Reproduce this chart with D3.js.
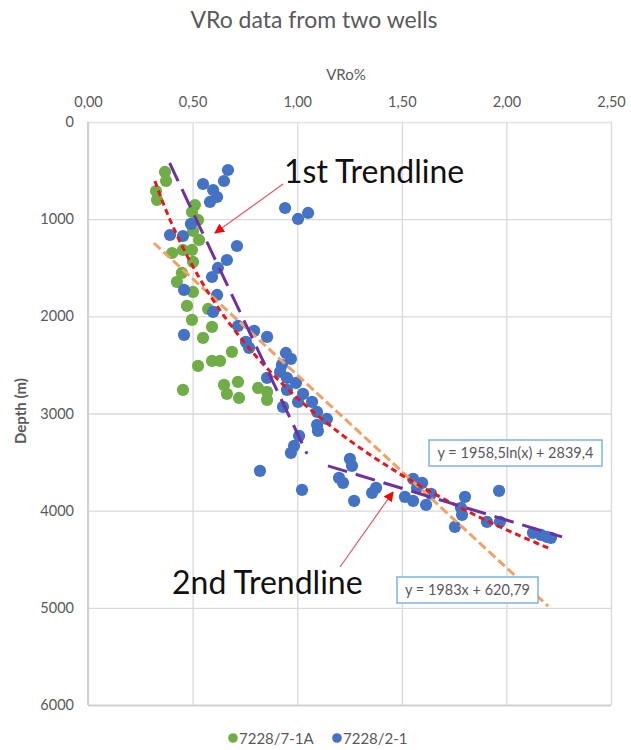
<!DOCTYPE html>
<html><head><meta charset="utf-8">
<script src="https://cdn.jsdelivr.net/npm/d3@7"></script>
<style>body{margin:0;background:#fff}svg{display:block}text{font-family:Lato,"Open Sans",sans-serif}</style>
</head><body><svg id="c" width="631" height="750"></svg>
<script>
// ---- data ----
const xTicks = [0, 0.5, 1.0, 1.5, 2.0, 2.5];
const yTicks = [0, 1000, 2000, 3000, 4000, 5000, 6000];
const seriesNames = ["7228/7-1A", "7228/2-1"];
const well71A_vro = [0.368,0.373,0.325,0.330,0.511,0.497,0.526,0.502,0.531,0.402,0.454,0.497,0.502,0.449,0.425,0.502,0.473,0.574,0.497,0.593,0.550,0.688,0.526,0.593,0.631,0.454,0.650,0.717,0.664,0.722,0.813,0.856,0.856];
const well71A_depth = [514,607,710,802,854,926,1008,1121,1214,1348,1317,1317,1440,1553,1646,1749,1893,1924,2037,2109,2222,2366,2510,2459,2459,2757,2706,2675,2798,2840,2737,2778,2860];
const well21_vro = [0.669,0.650,0.550,0.598,0.617,0.583,0.942,1.004,1.052,0.492,0.392,0.454,0.712,0.664,0.621,0.593,0.459,0.617,0.598,0.459,0.717,0.794,0.856,0.755,0.770,0.946,0.970,0.927,0.918,0.856,0.951,0.994,0.951,1.028,1.004,1.071,0.932,1.095,1.142,1.095,1.099,1.009,0.985,0.970,0.822,1.023,1.252,1.262,1.200,1.219,1.272,1.358,1.377,1.554,1.597,1.573,1.515,1.554,1.616,1.640,1.802,1.783,1.788,1.754,1.965,1.907,1.969,2.127,2.165,2.194,2.213];
const well21_depth = [494,607,638,700,772,823,885,998,936,1049,1163,1173,1276,1420,1502,1595,1728,1780,1955,2191,2099,2150,2212,2263,2325,2377,2438,2500,2572,2634,2634,2685,2757,2798,2881,2881,2932,2984,3056,3117,3179,3230,3333,3405,3590,3786,3467,3539,3663,3714,3899,3817,3765,3673,3714,3765,3858,3899,3940,3827,3858,3971,4043,4167,3796,4115,4115,4228,4249,4270,4280];
// trendlines (as shown in the chart)
const logFit = [1958.5, 2839.4];      // y = a ln(x) + b
const logRange = [0.32, 2.20];
const linFit = [1983, 620.79];       // y = a x + b
const linRange = [0.315, 2.20];
const trend1 = [[0.39, 422], [1.047, 3416]];
const trend2 = [[1.147, 3539], [2.266, 4270]];
const eqLabels = ["y = 1958,5ln(x) + 2839,4", "y = 1983x + 620,79"];

// ---- chart ----
const svg = d3.select("#c");
const L = 88, R = 611, T = 122, B = 705;
const x = d3.scaleLinear().domain([0, 2.5]).range([L, R]);
const y = d3.scaleLinear().domain([0, 6000]).range([T, B]);
const grey = "#595959", grid = "#d9d9d9";

svg.append("text").attr("x", 314).attr("y", 28).attr("text-anchor", "middle")
  .attr("font-size", 23).attr("fill", grey).text("VRo data from two wells");
svg.append("text").attr("x", 346).attr("y", 80).attr("text-anchor", "middle")
  .attr("font-size", 15).attr("fill", grey).text("VRo%");
svg.append("text").attr("transform", "translate(26,411) rotate(-90)").attr("text-anchor", "middle")
  .attr("font-size", 15).attr("font-weight", "bold").attr("fill", grey).text("Depth (m)");

const fmt = d => d.toFixed(2).replace(".", ",");
const gx = svg.append("g").attr("transform", `translate(0,${T})`)
  .call(d3.axisTop(x).tickValues(xTicks).tickFormat(fmt).tickSize(-(B - T)).tickPadding(15));
const gy = svg.append("g").attr("transform", `translate(${L},0)`)
  .call(d3.axisLeft(y).tickValues(yTicks).tickFormat(d3.format("d")).tickSize(-(R - L)).tickPadding(14));
[gx, gy].forEach(g => {
  g.select(".domain").remove();
  g.selectAll(".tick line").attr("stroke", grid).attr("stroke-width", 1.3);
  g.selectAll(".tick text").attr("fill", grey).attr("font-size", 14.5).attr("font-family", "Lato,'Open Sans',sans-serif");
});
gy.selectAll(".tick").filter(d => d === 6000).select("line").attr("stroke", "#d0d0d0").attr("stroke-width", 2);
gy.selectAll(".tick").filter(d => d === 0).select("line").attr("stroke", "#e2e2e2");
svg.append("line").attr("x1", L).attr("x2", L).attr("y1", T).attr("y2", B).attr("stroke", "#d0d0d0").attr("stroke-width", 2);

// points
const green = "#70ad47", blue = "#4472c4";
svg.append("g").selectAll("circle").data(d3.zip(well71A_vro, well71A_depth)).join("circle")
  .attr("cx", d => x(d[0])).attr("cy", d => y(d[1])).attr("r", 6.1).attr("fill", green);
svg.append("g").selectAll("circle").data(d3.zip(well21_vro, well21_depth)).join("circle")
  .attr("cx", d => x(d[0])).attr("cy", d => y(d[1])).attr("r", 6.1).attr("fill", blue);

// trendlines
const line = d3.line().x(d => x(d[0])).y(d => y(d[1]));
const logPts = d3.range(0, 101).map(i => { const v = logRange[0] + (logRange[1] - logRange[0]) * i / 100; return [v, logFit[0] * Math.log(v) + logFit[1]]; });
const linPts = linRange.map(v => [v, linFit[0] * v + linFit[1]]);
svg.append("path").attr("d", line(linPts)).attr("fill", "none").attr("stroke", "#f2a064").attr("stroke-width", 3).attr("stroke-dasharray", "9,4");
svg.append("path").attr("d", line(logPts)).attr("fill", "none").attr("stroke", "#e8161b").attr("stroke-width", 3).attr("stroke-dasharray", "6,4");
[trend1, trend2].forEach(t => svg.append("path").attr("d", line(t)).attr("fill", "none")
  .attr("stroke", "#7030a0").attr("stroke-width", 3).attr("stroke-dasharray", "20,9"));

// equation boxes
const eqBox = [[429, 440, 173, 26], [397, 577, 141, 26]];
eqLabels.forEach((t, i) => {
  const [bx, by, bw, bh] = eqBox[i];
  svg.append("rect").attr("x", bx).attr("y", by).attr("width", bw).attr("height", bh)
    .attr("fill", "#fff").attr("stroke", "#7fb2e0").attr("stroke-width", 1.5);
  svg.append("text").attr("x", bx + bw / 2).attr("y", by + bh / 2 + 5).attr("text-anchor", "middle")
    .attr("font-size", 14.5).attr("fill", grey).text(t);
});

// annotations
const defs = svg.append("defs");
defs.append("marker").attr("id", "ah").attr("viewBox", "0 0 10 10").attr("refX", 9).attr("refY", 5)
  .attr("markerWidth", 10).attr("markerHeight", 10).attr("markerUnits", "userSpaceOnUse").attr("orient", "auto")
  .append("path").attr("d", "M0,0L10,5L0,10z").attr("fill", "#ff0000");
svg.append("line").attr("x1", 283).attr("y1", 184).attr("x2", 215).attr("y2", 233)
  .attr("stroke", "#e5575f").attr("stroke-width", 1.2).attr("marker-end", "url(#ah)");
svg.append("line").attr("x1", 340).attr("y1", 567).attr("x2", 393).attr("y2", 492)
  .attr("stroke", "#e5575f").attr("stroke-width", 1.2).attr("marker-end", "url(#ah)");
svg.append("text").attr("x", 284).attr("y", 183).attr("font-size", 32).attr("fill", "#111").text("1st Trendline");
svg.append("text").attr("x", 172).attr("y", 594).attr("font-size", 32).attr("fill", "#111").text("2nd Trendline");

// legend
const lg = svg.append("g");
[[233, green, 0], [337, blue, 1]].forEach(([lx, c, i]) => {
  lg.append("circle").attr("cx", lx).attr("cy", 738).attr("r", 4.8).attr("fill", c);
  lg.append("text").attr("x", lx + 6).attr("y", 743.5).attr("font-size", 15).attr("fill", grey).text(seriesNames[i]);
});
</script></body></html>
